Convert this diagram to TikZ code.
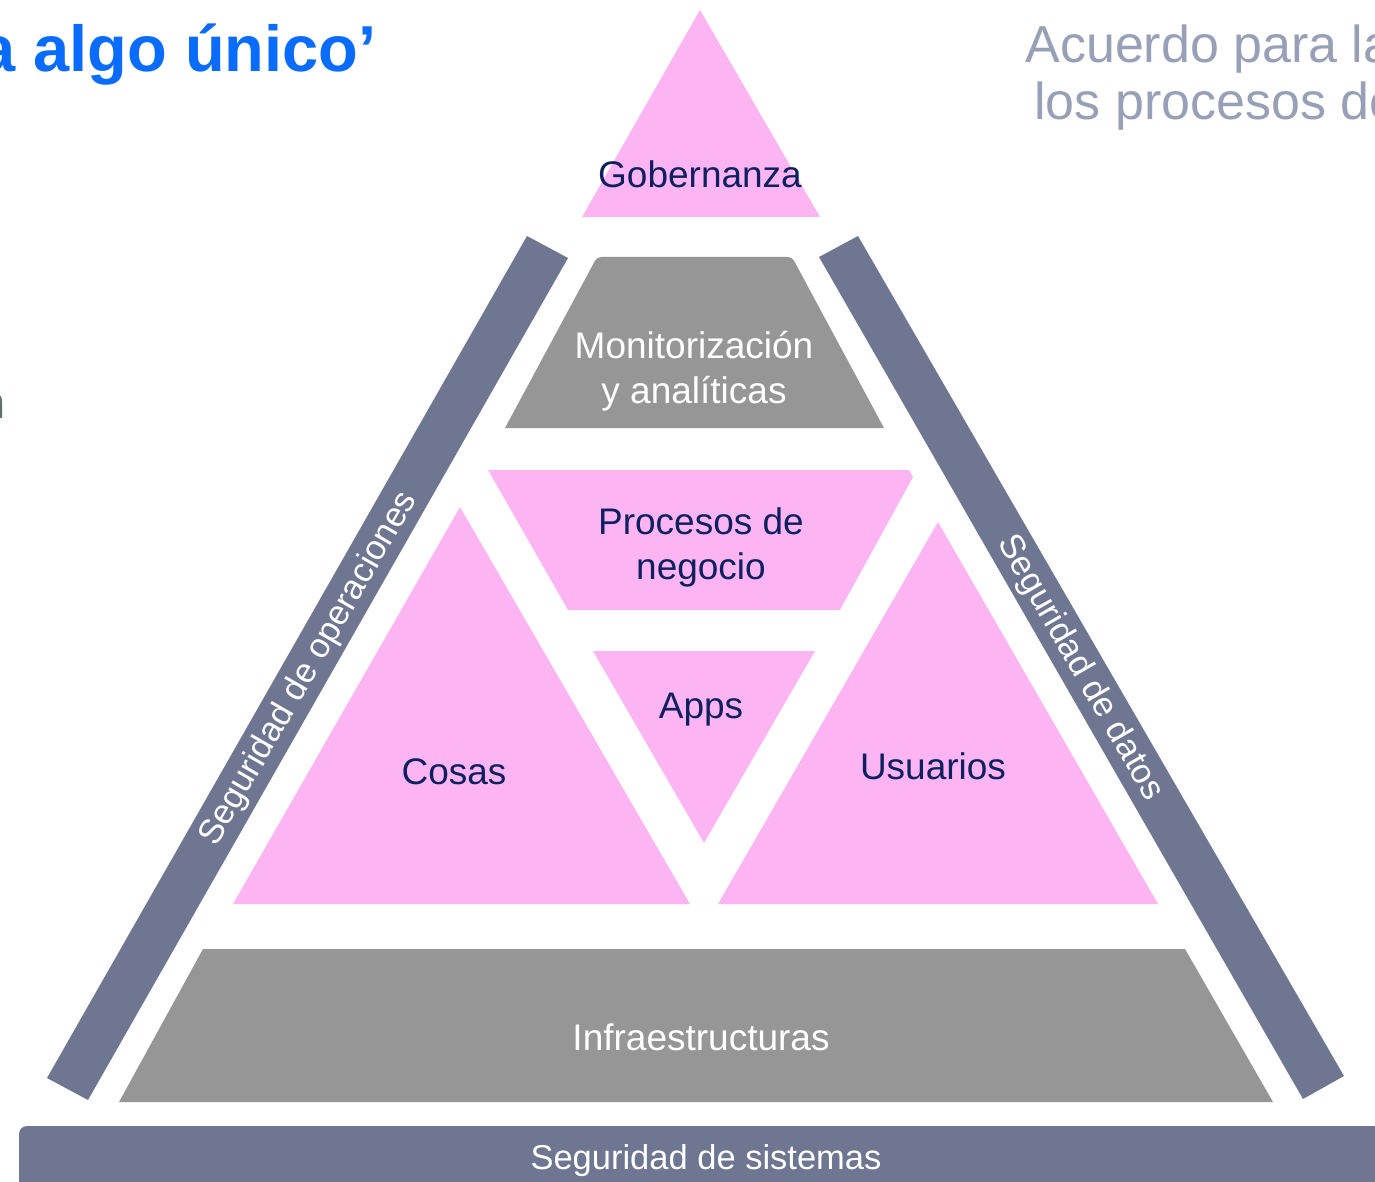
\documentclass[tikz,border=0pt]{standalone}
\usepackage{fontspec}
\setmainfont{Liberation Sans}
\definecolor{pinkfill}{RGB}{252,180,242}
\definecolor{grayfill}{RGB}{150,150,150}
\definecolor{barblue}{RGB}{110,118,145}
\definecolor{navytext}{RGB}{15,32,96}
\definecolor{titleblue}{RGB}{10,108,255}
\definecolor{softgray}{RGB}{152,160,184}
\definecolor{greentext}{RGB}{96,112,100}
\tikzset{
  lbl/.style={inner sep=0pt, text=navytext, font=\fontsize{18.5}{22.5}\selectfont, align=center},
  wlbl/.style={inner sep=0pt, text=white, font=\fontsize{18.5}{22.5}\selectfont, align=center},
  barlbl/.style={inner sep=0pt, text=white, font=\fontsize{17.25}{21}\selectfont},
}
\begin{document}
\begin{tikzpicture}[x=0.5pt,y=-0.5pt]
\useasboundingbox (0,0) rectangle (1375,1182);
\clip (0,0) rectangle (1375,1182);
% shapes
\fill[pinkfill] (700,10) -- (820,217) -- (582,217) -- cycle;
\fill[barblue] (527,236) -- (568,258) -- (88,1100) -- (47,1078) -- cycle;
\fill[barblue] (819,257) -- (858,236) -- (1344,1076) -- (1303,1099) -- cycle;
\fill[grayfill] (505,428) [rounded corners=2pt] -- (597,257) -- (792,257) [sharp corners] -- (884,428) -- cycle;
\fill[pinkfill] (488,470) -- (909,470) -- (913,477) -- (840,610) -- (568,610) -- cycle;
\fill[pinkfill] (593,651) -- (815,651) -- (704,843) -- cycle;
\fill[pinkfill] (460,507) -- (690,904) -- (233,904) -- cycle;
\fill[pinkfill] (938,522) -- (1158,904) -- (718,904) -- cycle;
\fill[grayfill] (203,949) -- (1185,949) -- (1273,1102) -- (119,1102) -- cycle;
\fill[barblue, rounded corners=4pt] (19,1126) rectangle (1420,1230);
% labels
\node[lbl, anchor=base] (gob) at (700,188) {Gobernanza};
\node[wlbl, anchor=base] (mon1) at (694,358) {Monitorización};
\node[wlbl, anchor=base] (mon2) at (694,403) {y analíticas};
\node[lbl, anchor=base] (pro1) at (701,534) {Procesos de};
\node[lbl, anchor=base] (pro2) at (701,579) {negocio};
\node[lbl, anchor=base] (apps) at (701,718) {Apps};
\node[lbl, anchor=base] (cosas) at (454,784) {Cosas};
\node[lbl, anchor=base] (usu) at (933,779) {Usuarios};
\node[wlbl, anchor=base] (infra) at (701,1050) {Infraestructuras};
\node[barlbl, anchor=base] (sist) at (706,1169) {Seguridad de sistemas};
\node[barlbl, rotate=60] (oper) at (309,669) {Seguridad de operaciones};
\node[barlbl, rotate=-60] (datos) at (1080,668) {Seguridad de datos};
% outside texts
\node[inner sep=0pt, anchor=base west, text=titleblue, font=\fontsize{32.5}{38}\selectfont\bfseries] (title) at (-21,72) {a algo único’};
\node[inner sep=0pt, anchor=base west, text=softgray, font=\fontsize{26}{30}\selectfont] (acu1) at (1025,63) {Acuerdo para la};
\node[inner sep=0pt, anchor=base west, text=softgray, font=\fontsize{26}{30}\selectfont] (acu2) at (1034,120) {los procesos de};
\node[inner sep=0pt, anchor=base west, text=greentext, font=\fontsize{22.5}{26}\selectfont] (frag) at (-20,418) {n};
\end{tikzpicture}
\end{document}
